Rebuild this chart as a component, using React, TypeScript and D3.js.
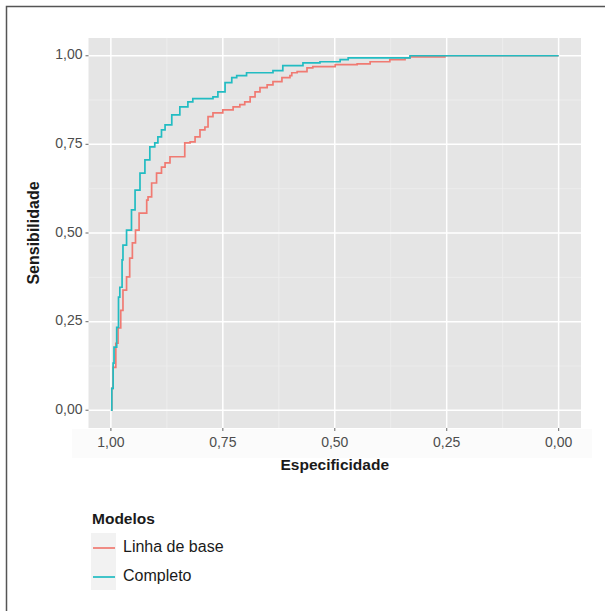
import React from "react";
import * as d3 from "d3";

// ROC curves: [specificity, sensitivity]
const baseSpec = [1, 0.998, 0.995, 0.989, 0.984, 0.978, 0.973, 0.965, 0.958, 0.952, 0.945, 0.937, 0.92, 0.917, 0.909, 0.898, 0.887, 0.879, 0.868, 0.842, 0.835, 0.823, 0.812, 0.801, 0.79, 0.783, 0.772, 0.75, 0.727, 0.712, 0.701, 0.689, 0.678, 0.667, 0.651, 0.638, 0.618, 0.6, 0.596, 0.584, 0.562, 0.549, 0.499, 0.45, 0.421, 0.377, 0.343, 0.332, 0.254, 0.254, 0];
const baseSens = [0, 0.062, 0.121, 0.189, 0.232, 0.282, 0.339, 0.376, 0.429, 0.472, 0.508, 0.556, 0.593, 0.602, 0.641, 0.669, 0.686, 0.698, 0.715, 0.715, 0.754, 0.757, 0.771, 0.791, 0.799, 0.828, 0.839, 0.847, 0.856, 0.862, 0.87, 0.884, 0.898, 0.91, 0.918, 0.927, 0.938, 0.944, 0.952, 0.955, 0.966, 0.969, 0.975, 0.977, 0.983, 0.989, 0.994, 0.997, 0.997, 1, 1];

const fullSpec = [1, 0.998, 0.995, 0.993, 0.987, 0.983, 0.98, 0.975, 0.973, 0.967, 0.965, 0.954, 0.946, 0.935, 0.924, 0.913, 0.902, 0.895, 0.887, 0.879, 0.864, 0.846, 0.828, 0.817, 0.783, 0.772, 0.761, 0.745, 0.73, 0.719, 0.697, 0.652, 0.638, 0.616, 0.571, 0.533, 0.488, 0.47, 0.332, 0.332, 0];
const fullSens = [0, 0.062, 0.133, 0.178, 0.234, 0.319, 0.347, 0.424, 0.466, 0.466, 0.508, 0.565, 0.621, 0.669, 0.706, 0.743, 0.754, 0.771, 0.791, 0.805, 0.833, 0.856, 0.87, 0.879, 0.879, 0.884, 0.898, 0.924, 0.938, 0.944, 0.952, 0.952, 0.958, 0.972, 0.98, 0.983, 0.989, 0.994, 0.997, 1, 1];

const seriesNames = ["Linha de base", "Completo"];
const seriesColors = ["#F07A72", "#22BCC2"];
const tickValues = [1, 0.75, 0.5, 0.25, 0];
const minorValues = [0.875, 0.625, 0.375, 0.125];

const fmt = (v: number) => v.toFixed(2).replace(".", ",");
const FONT = "'Liberation Sans', Arial, sans-serif";

export default function App() {
  const W = 605, H = 611;
  const panel = { left: 88.5, right: 581, top: 38, bottom: 428 };

  const x = d3.scaleLinear().domain([1.05, -0.05]).range([panel.left, panel.right]);
  const y = d3.scaleLinear().domain([-0.05, 1.05]).range([panel.bottom, panel.top]);

  const line = d3.line<[number, number]>()
    .x(d => x(d[0]))
    .y(d => y(d[1]))
    .curve(d3.curveStepAfter);

  const base: [number, number][] = baseSpec.map((s, i) => [s, baseSens[i]]);
  const full: [number, number][] = fullSpec.map((s, i) => [s, fullSens[i]]);

  return (
    <svg width={W} height={H} style={{ position: "absolute", left: 0, top: 0, background: "#fff" }}>
      {/* outer frame (only top and left visible) */}
      <path d={`M6.5,${H} L6.5,6.5 L${W},6.5`} fill="none" stroke="#555" strokeWidth={1.5} />

      {/* faint band behind x labels */}
      <rect x={72} y={429} width={520} height={29} fill="#fbfbfb" />

      {/* panel */}
      <rect x={panel.left} y={panel.top} width={panel.right - panel.left} height={panel.bottom - panel.top} fill="#e5e5e5" />
      {minorValues.map(v => (
        <g key={"m" + v}>
          <line x1={x(v)} x2={x(v)} y1={panel.top} y2={panel.bottom} stroke="#efefef" strokeWidth={0.8} />
          <line x1={panel.left} x2={panel.right} y1={y(v)} y2={y(v)} stroke="#efefef" strokeWidth={0.8} />
        </g>
      ))}
      {tickValues.map(v => (
        <g key={"M" + v}>
          <line x1={x(v)} x2={x(v)} y1={panel.top} y2={panel.bottom} stroke="#fff" strokeWidth={1.5} />
          <line x1={panel.left} x2={panel.right} y1={y(v)} y2={y(v)} stroke="#fff" strokeWidth={1.5} />
        </g>
      ))}

      <path d={line(base) || ""} fill="none" stroke={seriesColors[0]} strokeWidth={1.7} />
      <path d={line(full) || ""} fill="none" stroke={seriesColors[1]} strokeWidth={1.7} />

      {/* axes */}
      {tickValues.map(v => (
        <g key={"xt" + v}>
          <line x1={x(v)} x2={x(v)} y1={panel.bottom} y2={panel.bottom + 3} stroke="#7f7f7f" strokeWidth={1.2} />
          <text x={x(v)} y={panel.bottom + 15} textAnchor="middle" dominantBaseline="middle" fontFamily={FONT} fontSize={14} fill="#4d4d4d">{fmt(v)}</text>
          <line x1={panel.left - 3} x2={panel.left} y1={y(v)} y2={y(v)} stroke="#7f7f7f" strokeWidth={1.2} />
          <text x={panel.left - 6} y={y(v)} textAnchor="end" dominantBaseline="middle" fontFamily={FONT} fontSize={14} fill="#4d4d4d">{fmt(v)}</text>
        </g>
      ))}
      <text x={(panel.left + panel.right) / 2} y={466} textAnchor="middle" dominantBaseline="middle" fontFamily={FONT} fontWeight="bold" fontSize={15.5} fill="#1a1a1a">Especificidade</text>
      <text transform={`translate(35,${(panel.top + panel.bottom) / 2}) rotate(-90)`} textAnchor="middle" dominantBaseline="middle" fontFamily={FONT} fontWeight="bold" fontSize={16} fill="#1a1a1a">Sensibilidade</text>

      {/* legend */}
      <text x={92} y={520} dominantBaseline="middle" fontFamily={FONT} fontWeight="bold" fontSize={15.5} fill="#1a1a1a">Modelos</text>
      <rect x={91} y={533} width={25} height={57} fill="#f2f2f2" />
      {seriesNames.map((n, i) => (
        <g key={n} transform={`translate(0,${548 + i * 29})`}>
          <line x1={93} x2={115} y1={0} y2={0} stroke={seriesColors[i]} strokeWidth={1.7} />
          <text x={123} y={0} dominantBaseline="middle" fontFamily={FONT} fontSize={16} fill="#1a1a1a">{n}</text>
        </g>
      ))}
    </svg>
  );
}
